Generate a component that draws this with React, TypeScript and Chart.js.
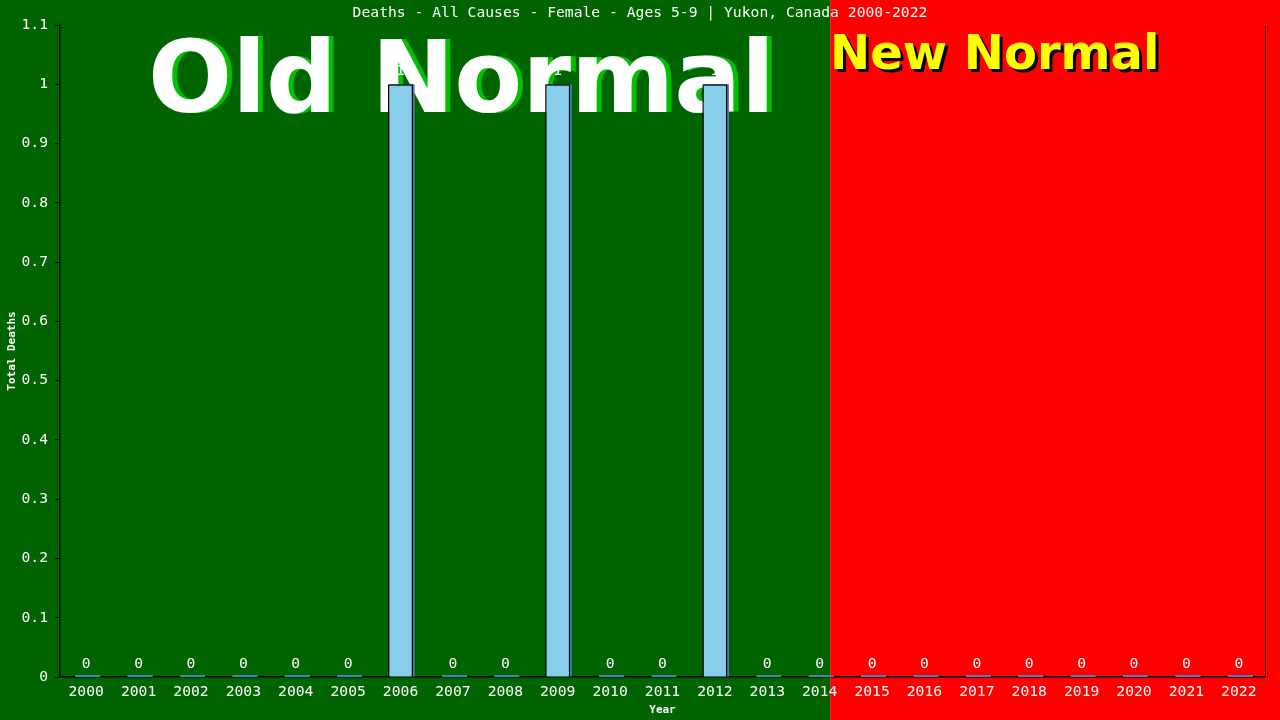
import React, { useEffect, useRef } from "react";
import { Chart, registerables } from "chart.js";

Chart.register(...registerables);

const years = [
  "2000", "2001", "2002", "2003", "2004", "2005", "2006", "2007",
  "2008", "2009", "2010", "2011", "2012", "2013", "2014", "2015",
  "2016", "2017", "2018", "2019", "2020", "2021", "2022",
];
const deaths = [0, 0, 0, 0, 0, 0, 1, 0, 0, 1, 0, 0, 1, 0, 0, 0, 0, 0, 0, 0, 0, 0, 0];
const chartTitle = "Deaths - All Causes - Female - Ages 5-9 | Yukon, Canada 2000-2022";
const oldLabel = "Old Normal";
const newLabel = "New Normal";
const lastOldYear = "2014";

const MONO = "'DejaVu Sans Mono', monospace";
const SANS = "'DejaVu Sans', sans-serif";

// background halves, big overlay words, bar shadows, value labels
const decor = {
  id: "decor",
  beforeDraw(chart: any) {
    const { ctx, width, height, scales } = chart;
    const x = scales.x;
    const idx = years.indexOf(lastOldYear);
    const step = x.getPixelForValue(1) - x.getPixelForValue(0);
    const split = x.getPixelForValue(idx) + step * 0.2;
    ctx.save();
    ctx.fillStyle = "#006400";
    ctx.fillRect(0, 0, split, height);
    ctx.fillStyle = "#ff0000";
    ctx.fillRect(split, 0, width - split, height);
    ctx.fillStyle = "#ffffff";
    ctx.font = `14.7px ${MONO}`;
    ctx.textAlign = "center";
    ctx.textBaseline = "middle";
    ctx.fillText(chartTitle, width / 2, 13);
    ctx.restore();
  },
  beforeDatasetsDraw(chart: any) {
    const { ctx, chartArea } = chart;
    ctx.save();
    ctx.textAlign = "left";
    ctx.textBaseline = "alphabetic";
    ctx.font = `bold 99px ${SANS}`;
    ctx.fillStyle = "#00c000";
    ctx.fillText(oldLabel, 153, 112);
    ctx.fillStyle = "#ffffff";
    ctx.fillText(oldLabel, 148, 112);
    ctx.font = `bold 48px ${SANS}`;
    ctx.fillStyle = "#000000";
    ctx.fillText(newLabel, 833, 72);
    ctx.fillStyle = "#ffff00";
    ctx.fillText(newLabel, 830, 69);
    // right frame line
    ctx.strokeStyle = "#000000";
    ctx.lineWidth = 1;
    ctx.beginPath();
    ctx.moveTo(chartArea.right + 0.5, chartArea.top);
    ctx.lineTo(chartArea.right + 0.5, chartArea.bottom);
    ctx.stroke();
    // bar shadows
    const meta = chart.getDatasetMeta(0);
    ctx.fillStyle = "#4682b4";
    meta.data.forEach((bar: any) => {
      const w = bar.width;
      const top = Math.min(bar.y, bar.base - 2);
      ctx.fillRect(bar.x - w / 2 + 1.5, top, w, bar.base - top);
    });
    ctx.restore();
  },
  afterDatasetsDraw(chart: any) {
    const { ctx } = chart;
    const meta = chart.getDatasetMeta(0);
    ctx.save();
    ctx.fillStyle = "#ffffff";
    ctx.font = `14.7px ${MONO}`;
    ctx.textAlign = "center";
    ctx.textBaseline = "middle";
    meta.data.forEach((bar: any, i: number) => {
      ctx.fillText(String(deaths[i]), bar.x, bar.y - 13);
    });
    ctx.restore();
  },
};

const DeathsChart = () => {
  const chartRef = useRef<HTMLCanvasElement | null>(null);

  useEffect(() => {
    document.body.style.margin = "0";
    const ctx = chartRef.current!.getContext("2d")!;
    const chart = new Chart(ctx, {
      type: "bar",
      data: {
        labels: years,
        datasets: [
          {
            data: deaths,
            backgroundColor: "#87ceeb",
            borderColor: "#000000",
            borderWidth: 1.5,
            barPercentage: 0.48,
            categoryPercentage: 1,
          },
        ],
      },
      options: {
        responsive: false,
        animation: false,
        devicePixelRatio: 1,
        layout: { padding: { top: 25, right: 15, left: 0, bottom: 0 } },
        plugins: {
          legend: { display: false },
          tooltip: { enabled: false },
        },
        scales: {
          x: {
            grid: { display: false, drawTicks: false },
            border: { display: true, color: "#000000", width: 1.5 },
            ticks: {
              color: "#ffffff",
              font: { family: MONO, size: 14.7 },
              padding: 6,
              maxRotation: 0,
              autoSkip: false,
            },
            title: {
              display: true,
              text: "Year",
              color: "#ffffff",
              font: { family: MONO, size: 11, weight: "bold" },
              padding: { top: 0, bottom: 3 },
            },
            afterFit: (s: any) => {
              s.height = 43;
            },
          },
          y: {
            min: 0,
            max: 1.1,
            grid: {
              display: true,
              drawOnChartArea: false,
              drawTicks: true,
              tickLength: 5,
              color: "#000000",
            },
            border: { display: true, color: "#000000", width: 1.5 },
            ticks: {
              stepSize: 0.1,
              color: "#ffffff",
              font: { family: MONO, size: 14.7 },
              padding: 7,
              callback: (v: any) => String(Math.round(Number(v) * 10) / 10),
            },
            title: {
              display: true,
              text: "Total Deaths",
              color: "#ffffff",
              font: { family: MONO, size: 11, weight: "bold" },
              padding: { top: 6, bottom: 0 },
            },
            afterFit: (s: any) => {
              s.width = 60;
            },
          },
        },
      },
      plugins: [decor],
    });
    return () => {
      chart.destroy();
    };
  }, []);

  return (
    <div style={{ width: 1280, height: 720 }}>
      <canvas ref={chartRef} width={1280} height={720} />
    </div>
  );
};

export default function App() {
  return <DeathsChart />;
}
